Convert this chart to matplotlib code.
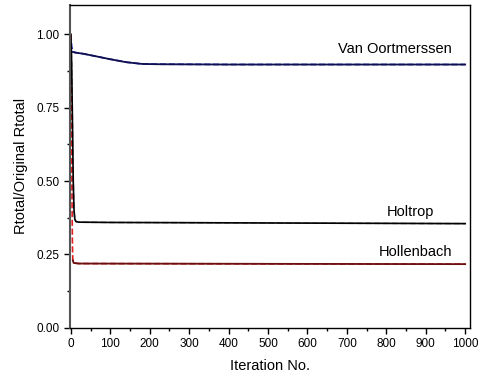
import numpy as np
import matplotlib
matplotlib.use('Agg')
import matplotlib.pyplot as plt
from matplotlib.ticker import MultipleLocator

plt.rcParams['font.family'] = ['Liberation Sans', 'DejaVu Sans']

# iteration points and Rtotal ratios
van_x = [0, 2, 5, 10, 30, 60, 100, 140, 180, 220, 400, 1000]
van_y = [1.0, 0.96, 0.94, 0.938, 0.934, 0.926, 0.915, 0.905, 0.899, 0.898, 0.897, 0.897]

holtrop_x = [0, 2, 4, 6, 8, 10, 13, 20, 100, 1000]
holtrop_y = [1.0, 0.90, 0.70, 0.50, 0.40, 0.37, 0.362, 0.360, 0.359, 0.355]

hollen_x = [0, 1, 2, 3, 4, 5, 7, 20, 1000]
hollen_y = [1.0, 0.85, 0.62, 0.42, 0.28, 0.23, 0.221, 0.219, 0.217]

labels = ['Van Oortmerssen', 'Holtrop', 'Hollenbach']
label_x = [967, 922, 967]
label_y = [0.95, 0.395, 0.259]

fig = plt.figure(figsize=(4.8, 3.79), dpi=100)
ax = fig.add_axes([0.146, 0.135, 0.833, 0.852])

# coloured dashed traces underneath, darker solid ones on top
ax.plot(van_x, van_y, color='#2020c0', linestyle='--', linewidth=1.2)
ax.plot(holtrop_x, holtrop_y, color='#999999', linestyle='--', linewidth=1.2)
ax.plot(hollen_x, hollen_y, color='#e02020', linestyle='--', linewidth=1.2)
ax.plot(van_x[2:], van_y[2:], color='#101050', linewidth=1.3)
ax.plot(holtrop_x, holtrop_y, color='black', linewidth=1.2)
ax.plot(hollen_x[5:], hollen_y[5:], color='#6a1010', linewidth=1.3)

for lab, lx, ly in zip(labels, label_x, label_y):
    ax.text(lx, ly, lab, ha='right', va='center', fontsize=10.5)

ax.set_xlim(-2, 1012)
ax.set_ylim(0, 1.1)
ax.xaxis.set_major_locator(MultipleLocator(100))
ax.xaxis.set_minor_locator(MultipleLocator(50))
ax.yaxis.set_major_locator(MultipleLocator(0.25))
ax.yaxis.set_minor_locator(MultipleLocator(0.125))
ax.yaxis.set_major_formatter(plt.FormatStrFormatter('%.2f'))
ax.tick_params(which='major', direction='out', length=4, width=1, labelsize=8.5)
ax.tick_params(which='minor', direction='out', length=2.5, width=1)
ax.tick_params(top=False, right=False)

ax.spines['left'].set_color('#555555')
ax.spines['left'].set_linewidth(1.5)
for s in ['top', 'right', 'bottom']:
    ax.spines[s].set_linewidth(1.0)

ax.set_xlabel('Iteration No.', fontsize=10.5, labelpad=6)
ax.set_ylabel('Rtotal/Original Rtotal', fontsize=10.5, labelpad=6)

fig.savefig('out.png', dpi=100)
